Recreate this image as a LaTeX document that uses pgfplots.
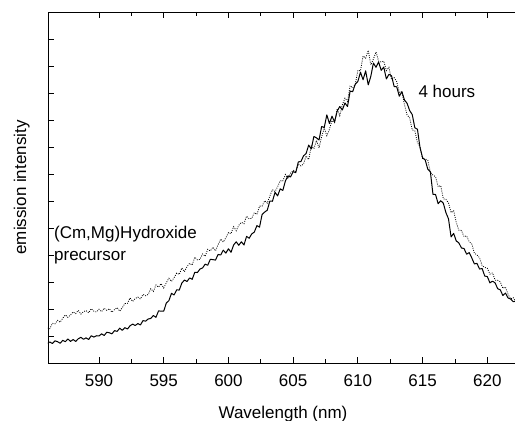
\documentclass[border=0pt]{standalone}
\usepackage{pgfplots}
\pgfplotsset{compat=1.18}
\usepackage{fontspec}
\setmainfont{Liberation Sans}
\begin{document}
\begin{tikzpicture}
\useasboundingbox (-48pt,-58pt) rectangle (467pt,363pt);
\begin{axis}[
  scale only axis, width=470pt, height=351pt,
  xmin=586.06, xmax=622.37, ymin=0, ymax=13,
  axis line style={line width=0.9pt},
  tick align=inside,
  xtick pos=both, ytick pos=left,
  xtick={590,595,...,620},
  minor x tick num=1,
  ytick={1,2,...,12}, yticklabels={},
  major tick length=6pt, minor tick length=4pt,
  tick style={line width=0.8pt, black},
  x tick label style={/pgf/number format/1000 sep={}},
  /pgf/number format/assume math mode=true,
  font=\fontsize{17}{20}\selectfont,
  xticklabel style={inner sep=0pt, anchor=north, yshift=-11pt},
  xlabel={Wavelength (nm)},
  ylabel={emission intensity},
  every axis x label/.style={at={(axis description cs:0.5,-0.1225)}, anchor=north, inner sep=0pt},
  every axis y label/.style={at={(axis description cs:-0.0385,0.5)}, anchor=south, rotate=90, inner sep=0pt},
]
\addplot[black, line width=1pt, line join=round] coordinates {
(586.0,0.72) (586.2,0.78) (586.4,0.72) (586.6,0.82) (586.8,0.79) (587.0,0.73) (587.2,0.84) (587.4,0.79) (587.6,0.89) (587.8,0.80)
(588.0,0.87) (588.2,0.80) (588.4,0.90) (588.6,0.95) (588.8,0.88) (589.0,0.93) (589.2,0.87) (589.4,1.01) (589.6,0.96) (589.8,1.01)
(590.0,1.00) (590.2,1.08) (590.4,1.02) (590.6,1.14) (590.8,1.12) (591.0,1.08) (591.2,1.20) (591.4,1.17) (591.6,1.29) (591.8,1.21)
(592.0,1.31) (592.2,1.26) (592.4,1.38) (592.6,1.44) (592.8,1.39) (593.0,1.46) (593.2,1.41) (593.4,1.57) (593.6,1.55) (593.8,1.63)
(594.0,1.65) (594.2,1.76) (594.4,1.69) (594.6,1.93) (594.8,1.92) (595.0,1.92) (595.2,2.22) (595.4,2.31) (595.6,2.58) (595.8,2.52)
(596.0,2.71) (596.2,2.70) (596.4,2.96) (596.6,3.07) (596.8,3.02) (597.0,3.15) (597.2,3.10) (597.4,3.36) (597.6,3.35) (597.8,3.48)
(598.0,3.52) (598.2,3.66) (598.4,3.62) (598.6,3.84) (598.8,3.83) (599.0,3.81) (599.2,4.02) (599.4,4.00) (599.6,4.18) (599.8,4.07)
(600.0,4.23) (600.2,4.10) (600.4,4.37) (600.6,4.49) (600.8,4.36) (601.0,4.49) (601.2,4.37) (601.4,4.69) (601.6,4.62) (601.8,4.78)
(602.0,4.85) (602.2,5.09) (602.4,5.03) (602.6,5.50) (602.8,5.59) (603.0,5.66) (603.2,6.00) (603.4,5.99) (603.6,6.32) (603.8,6.19)
(604.0,6.45) (604.2,6.39) (604.4,6.74) (604.6,6.93) (604.8,6.89) (605.0,7.09) (605.2,7.05) (605.4,7.45) (605.6,7.46) (605.8,7.67)
(606.0,7.76) (606.2,8.07) (606.4,7.93) (606.6,8.39) (606.8,8.34) (607.0,8.26) (607.2,8.76) (607.4,8.72) (607.6,9.19) (607.8,8.87)
(608.0,9.14) (608.2,8.93) (608.4,9.33) (608.6,9.50) (608.8,9.37) (609.0,9.63) (609.2,9.50) (609.4,10.07) (609.6,10.05) (609.8,10.33)
(610.0,10.43) (610.2,10.77) (610.4,10.49) (610.6,10.82) (610.8,10.30) (611.0,10.62) (611.2,11.11) (611.4,10.95) (611.6,11.15) (611.8,10.84)
(612.0,10.96) (612.2,10.52) (612.4,10.69) (612.6,10.64) (612.8,10.24) (613.0,10.23) (613.2,9.88) (613.4,10.05) (613.6,9.74) (613.8,9.62)
(614.0,9.35) (614.2,9.20) (614.4,8.71) (614.6,8.66) (614.8,7.98) (615.0,7.60) (615.2,7.52) (615.4,7.18) (615.6,7.08) (615.8,6.25)
(616.0,6.24) (616.2,5.90) (616.4,6.01) (616.6,5.92) (616.8,5.57) (617.0,5.34) (617.2,4.67) (617.4,4.80) (617.6,4.52) (617.8,4.45)
(618.0,4.26) (618.2,4.24) (618.4,4.03) (618.6,4.09) (618.8,3.89) (619.0,3.67) (619.2,3.69) (619.4,3.48) (619.6,3.50) (619.8,3.22)
(620.0,3.20) (620.2,2.97) (620.4,3.03) (620.6,2.97) (620.8,2.75) (621.0,2.71) (621.2,2.50) (621.4,2.59) (621.6,2.41) (621.8,2.37)
(622.0,2.27) (622.2,2.29) (622.4,2.14)
};
\addplot[black, line width=0.8pt, dash pattern=on 0.9pt off 1.3pt] coordinates {
(586.0,1.30) (586.2,1.27) (586.4,1.47) (586.6,1.45) (586.8,1.58) (587.0,1.51) (587.2,1.66) (587.4,1.78) (587.6,1.69) (587.8,1.78)
(588.0,1.89) (588.2,1.83) (588.4,1.95) (588.6,1.81) (588.8,1.90) (589.0,1.94) (589.2,1.86) (589.4,2.01) (589.6,1.92) (589.8,1.89)
(590.0,1.99) (590.2,1.90) (590.4,2.03) (590.6,1.95) (590.8,2.01) (591.0,1.88) (591.2,1.98) (591.4,2.05) (591.6,1.92) (591.8,2.05)
(592.0,2.20) (592.2,2.21) (592.4,2.41) (592.6,2.28) (592.8,2.39) (593.0,2.44) (593.2,2.37) (593.4,2.54) (593.6,2.49) (593.8,2.54)
(594.0,2.75) (594.2,2.65) (594.4,2.89) (594.6,2.81) (594.8,2.94) (595.0,2.78) (595.2,2.97) (595.4,3.14) (595.6,3.02) (595.8,3.16)
(596.0,3.33) (596.2,3.28) (596.4,3.52) (596.6,3.38) (596.8,3.57) (597.0,3.69) (597.2,3.63) (597.4,3.92) (597.6,3.82) (597.8,3.84)
(598.0,4.04) (598.2,3.95) (598.4,4.21) (598.6,4.15) (598.8,4.29) (599.0,4.15) (599.2,4.38) (599.4,4.59) (599.6,4.48) (599.8,4.64)
(600.0,4.83) (600.2,4.79) (600.4,5.05) (600.6,4.90) (600.8,5.10) (601.0,5.21) (601.2,5.16) (601.4,5.44) (601.6,5.34) (601.8,5.36)
(602.0,5.57) (602.2,5.50) (602.4,5.81) (602.6,5.81) (602.8,6.01) (603.0,5.92) (603.2,6.19) (603.4,6.42) (603.6,6.35) (603.8,6.53)
(604.0,6.75) (604.2,6.74) (604.4,6.98) (604.6,6.83) (604.8,7.03) (605.0,7.14) (605.2,7.09) (605.4,7.37) (605.6,7.30) (605.8,7.37)
(606.0,7.67) (606.2,7.53) (606.4,8.04) (606.6,7.93) (606.8,8.24) (607.0,7.97) (607.2,8.38) (607.4,8.70) (607.6,8.42) (607.8,8.65)
(608.0,8.98) (608.2,8.90) (608.4,9.42) (608.6,9.16) (608.8,9.56) (609.0,9.81) (609.2,9.69) (609.4,10.27) (609.6,10.19) (609.8,10.32)
(610.0,10.84) (610.2,10.82) (610.4,11.37) (610.6,11.29) (610.8,11.58) (611.0,11.04) (611.2,11.26) (611.4,11.52) (611.6,11.18) (611.8,11.15)
(612.0,11.18) (612.2,10.83) (612.4,10.95) (612.6,10.50) (612.8,10.57) (613.0,10.42) (613.2,10.02) (613.4,10.05) (613.6,9.56) (613.8,9.19)
(614.0,9.08) (614.2,8.63) (614.4,8.60) (614.6,8.16) (614.8,8.00) (615.0,7.55) (615.2,7.56) (615.4,7.51) (615.6,7.07) (615.8,6.96)
(616.0,6.90) (616.2,6.53) (616.4,6.57) (616.6,6.08) (616.8,6.06) (617.0,5.93) (617.2,5.57) (617.4,5.64) (617.6,5.21) (617.8,4.92)
(618.0,4.91) (618.2,4.68) (618.4,4.71) (618.6,4.49) (618.8,4.41) (619.0,4.07) (619.2,4.00) (619.4,3.90) (619.6,3.60) (619.8,3.54)
(620.0,3.51) (620.2,3.29) (620.4,3.34) (620.6,3.07) (620.8,3.06) (621.0,3.01) (621.2,2.77) (621.4,2.81) (621.6,2.55) (621.8,2.37)
(622.0,2.42) (622.2,2.26) (622.4,2.30)
};
\node[anchor=base west, inner sep=0pt] at (axis cs:614.67,9.85) {4 hours};
\node[anchor=base west, inner sep=0pt] at (axis cs:586.52,4.62) {(Cm,Mg)Hydroxide};
\node[anchor=base west, inner sep=0pt] at (axis cs:586.52,3.81) {precursor};
\end{axis}
\end{tikzpicture}
\end{document}
